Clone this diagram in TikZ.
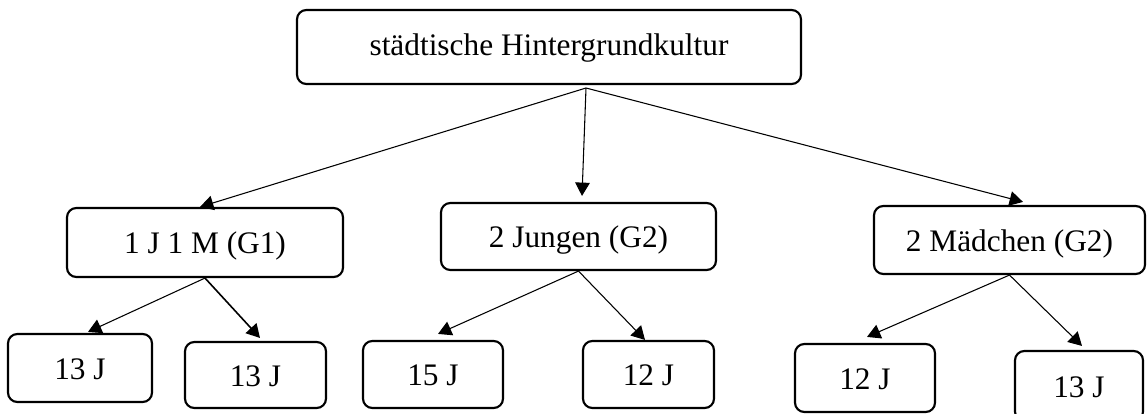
\documentclass[tikz,border=0pt]{standalone}
\usepackage{fontspec}
\setmainfont{Liberation Serif}
\usetikzlibrary{arrows.meta}
\begin{document}
\begin{tikzpicture}[x=0.75pt,y=-0.75pt,
  box/.style={draw, line width=1.6pt, rounded corners=7pt, inner sep=0pt,
    font=\fontsize{23.5}{28}\selectfont, text height=17.8pt, text depth=1pt},
  size/.style 2 args={minimum width=#1*0.75pt, minimum height=#2*0.75pt},
  arr/.style={line width=0.8pt, -{Triangle[length=10pt,width=11pt]}}]
\useasboundingbox (0,0) rectangle (1147,414);
\clip (0,0) rectangle (1147,414);

% root
\node[box, size={504}{74}, text height=13.2pt] (top) at (549,47) {städtische Hintergrundkultur};

% groups
\node[box, size={276}{69}] (g1) at (205,242.5) {1 J 1 M (G1)};
\node[box, size={275}{67}] (g2) at (578.5,236.5) {2 Jungen (G2)};
\node[box, size={271}{68}] (g3) at (1009.5,240) {2 Mädchen (G2)};

% children
\node[box, size={144}{68}] (c1) at (80,368) {13 J};
\node[box, size={141}{66}] (c2) at (255.5,375) {13 J};
\node[box, size={140}{67}] (c3) at (433,374.5) {15 J};
\node[box, size={131}{67}] (c4) at (648.5,374.5) {12 J};
\node[box, size={140}{68}] (c5) at (865,378) {12 J};
\node[box, size={128}{70}] (c6) at (1079,386) {13 J};

% common starting point below the root
\coordinate (fork) at (586,88);

\draw[arr] (fork) -- ([shift={(-5,0)}]g1.north);
\draw[arr] (fork) -- ([shift={(3.5,-6)}]g2.north);
\draw[arr] (fork) -- ([shift={(13.5,-3)}]g3.north);

\draw[arr] (g1.south) -- ([shift={(8,-1)}]c1.north);
\draw[arr, line width=1.2pt] (g1.south) -- ([shift={(4.5,-3)}]c2.north);

\draw[arr] (g2.south) -- ([shift={(5,-6)}]c3.north);
\draw[arr] (g2.south) -- ([shift={(-3.5,0)}]c4.north);

\draw[arr] (g3.south) -- ([shift={(2,-6)}]c5.north);
\draw[arr] (g3.south) -- ([shift={(3,-4)}]c6.north);
\end{tikzpicture}
\end{document}
